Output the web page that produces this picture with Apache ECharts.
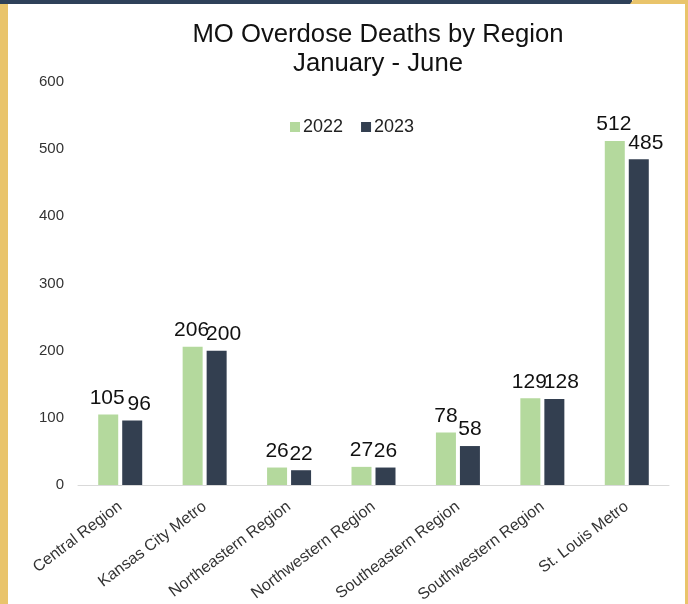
<!DOCTYPE html>
<html>
<head>
<meta charset="utf-8">
<script src="https://cdn.jsdelivr.net/npm/echarts@6/dist/echarts.min.js"></script>
<style>
  html, body { margin: 0; padding: 0; background: #fff; }
  #chart { width: 688px; height: 604px; }
</style>
</head>
<body>
<div id="chart"></div>
<script>
// Chart data
const regions = ['Central Region', 'Kansas City Metro', 'Northeastern Region', 'Northwestern Region',
    'Southeastern Region', 'Southwestern Region', 'St. Louis Metro'];
const deaths2022 = [105, 206, 26, 27, 78, 129, 512];
const deaths2023 = [96, 200, 22, 26, 58, 128, 485];
const yTicks = { min: 0, max: 600, step: 100 };

const FONT = 'Liberation Sans, Arial, sans-serif';
const chart = echarts.init(document.getElementById('chart'));

const labelStyle = {
    show: true,
    position: 'top',
    distance: 6,
    color: '#111',
    fontSize: 21,
    fontFamily: FONT
};

// where the 2022 label is 3 digits wide, push the pair of labels apart (like the original)
function withLabelNudge(values, dx) {
    return values.map((v, i) => deaths2022[i] >= 100 ? { value: v, label: { offset: [dx, 0] } } : v);
}

const option = {
    backgroundColor: '#fff',
    animation: false,
    textStyle: { fontFamily: FONT },
    legend: {
        top: 113,
        left: 285,
        itemWidth: 10,
        itemHeight: 10,
        itemGap: 18,
        icon: 'rect',
        textStyle: { fontSize: 18, color: '#222', padding: [0, 0, 0, -2] },
        data: ['2022', '2023']
    },
    grid: { left: 78, right: 19, top: 82, bottom: 119, outerBoundsMode: 'none' },
    xAxis: {
        type: 'category',
        data: regions,
        axisLine: { lineStyle: { color: '#d9d9d9', width: 1 } },
        axisTick: { show: false },
        axisLabel: { rotate: 37, margin: 20, fontSize: 16, color: '#333', interval: 0 }
    },
    yAxis: {
        type: 'value',
        min: yTicks.min,
        max: yTicks.max,
        interval: yTicks.step,
        splitLine: { show: false },
        axisLine: { show: false },
        axisTick: { show: false },
        axisLabel: { fontSize: 15, color: '#333', margin: 14 }
    },
    series: [
        {
            name: '2022',
            type: 'bar',
            data: withLabelNudge(deaths2022, -1),
            barWidth: 20,
            barGap: '20%',
            itemStyle: { color: '#b4d99d' },
            label: labelStyle
        },
        {
            name: '2023',
            type: 'bar',
            data: withLabelNudge(deaths2023, 7),
            barWidth: 20,
            itemStyle: { color: '#333f50' },
            label: labelStyle
        }
    ],
    graphic: [
        {
            type: 'text',
            x: 378,
            y: 20,
            style: {
                text: 'MO Overdose Deaths by Region\nJanuary - June',
                align: 'center',
                verticalAlign: 'top',
                fontSize: 25.7,
                lineHeight: 29,
                fontFamily: FONT,
                fill: '#111'
            }
        },
        // top navy strip
        { type: 'rect', shape: { x: 0, y: 0, width: 632, height: 4 }, style: { fill: '#2e4159' }, z: 100 },
        // top-right yellow strip with slanted edge
        { type: 'polygon', shape: { points: [[630, 4], [633, 0], [688, 0], [688, 4]] }, style: { fill: '#e9c46b' }, z: 100 },
        // left yellow bar
        { type: 'rect', shape: { x: 0, y: 4, width: 8, height: 600 }, style: { fill: '#e9c46b' }, z: 100 },
        // right yellow line
        { type: 'rect', shape: { x: 685, y: 0, width: 3, height: 604 }, style: { fill: '#e9c46b' }, z: 100 }
    ]
};

chart.setOption(option);
</script>
</body>
</html>
